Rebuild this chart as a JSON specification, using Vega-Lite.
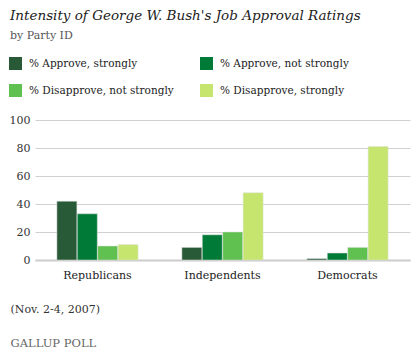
{
  "$schema": "https://vega.github.io/schema/vega-lite/v6.json",
  "autosize": {"type": "none"},
  "width": 375,
  "height": 140,
  "padding": {"left": 35, "top": 120, "right": 10, "bottom": 93},
  "background": "#ffffff",
  "title": {
    "text": "Intensity of George W. Bush's Job Approval Ratings",
    "subtitle": "by Party ID",
    "anchor": "start",
    "frame": "group",
    "dx": -25,
    "offset": 16,
    "font": "DejaVu Serif",
    "fontSize": 13.5,
    "fontStyle": "italic",
    "fontWeight": "normal",
    "color": "#222222",
    "subtitleFont": "DejaVu Serif",
    "subtitleFontSize": 11,
    "subtitleColor": "#555555",
    "subtitlePadding": 8
  },
  "data": {
    "values": [
      {"party": "Republicans", "series": "% Approve, strongly", "value": 42},
      {"party": "Republicans", "series": "% Approve, not strongly", "value": 33},
      {"party": "Republicans", "series": "% Disapprove, not strongly", "value": 10},
      {"party": "Republicans", "series": "% Disapprove, strongly", "value": 11},
      {"party": "Independents", "series": "% Approve, strongly", "value": 9},
      {"party": "Independents", "series": "% Approve, not strongly", "value": 18},
      {"party": "Independents", "series": "% Disapprove, not strongly", "value": 20},
      {"party": "Independents", "series": "% Disapprove, strongly", "value": 48},
      {"party": "Democrats", "series": "% Approve, strongly", "value": 1},
      {"party": "Democrats", "series": "% Approve, not strongly", "value": 5},
      {"party": "Democrats", "series": "% Disapprove, not strongly", "value": 9},
      {"party": "Democrats", "series": "% Disapprove, strongly", "value": 81}
    ]
  },
  "mark": {"type": "bar", "stroke": "#e0e0e0", "strokeWidth": 0.5},
  "encoding": {
    "x": {
      "field": "party",
      "type": "nominal",
      "sort": ["Republicans", "Independents", "Democrats"],
      "scale": {"paddingInner": 0.35, "paddingOuter": 0.175},
      "axis": {
        "title": "(Nov. 2-4, 2007)",
        "titleAnchor": "start",
        "titleAlign": "left",
        "titleX": -25,
        "titleY": 52,
        "titleBaseline": "alphabetic",
        "titleFont": "DejaVu Serif",
        "titleFontSize": 11,
        "titleFontWeight": "normal",
        "titleColor": "#333333",
        "labelAngle": 0,
        "labelFont": "DejaVu Serif",
        "labelFontSize": 11,
        "labelColor": "#222222",
        "labelPadding": 9,
        "ticks": false,
        "domainColor": "#cccccc",
        "domainWidth": 2
      }
    },
    "xOffset": {
      "field": "series",
      "type": "nominal",
      "sort": ["% Approve, strongly", "% Approve, not strongly", "% Disapprove, not strongly", "% Disapprove, strongly"],
      "scale": {"paddingInner": 0.02}
    },
    "y": {
      "field": "value",
      "type": "quantitative",
      "scale": {"domain": [0, 100]},
      "axis": {
        "values": [0, 20, 40, 60, 80, 100],
        "title": "GALLUP POLL",
        "titleAngle": 0,
        "titleAnchor": "start",
        "titleAlign": "left",
        "titleX": -25,
        "titleY": 226,
        "titleBaseline": "alphabetic",
        "titleFont": "DejaVu Serif",
        "titleFontSize": 11.5,
        "titleFontWeight": "normal",
        "titleColor": "#666666",
        "labelFont": "DejaVu Serif",
        "labelFontSize": 11,
        "labelColor": "#333333",
        "labelPadding": 5,
        "ticks": false,
        "domain": false,
        "gridColor": "#d0d0d0",
        "gridWidth": 1
      }
    },
    "color": {
      "field": "series",
      "type": "nominal",
      "sort": ["% Approve, strongly", "% Approve, not strongly", "% Disapprove, not strongly", "% Disapprove, strongly"],
      "scale": {
        "domain": ["% Approve, strongly", "% Approve, not strongly", "% Disapprove, not strongly", "% Disapprove, strongly"],
        "range": ["#285a38", "#007a37", "#60c050", "#c6e56f"]
      },
      "legend": {
        "title": null,
        "orient": "none",
        "legendX": -26,
        "legendY": -63,
        "direction": "horizontal",
        "columns": 2,
        "columnPadding": 26,
        "rowPadding": 14,
        "symbolType": "square",
        "symbolSize": 169,
        "symbolStrokeWidth": 0,
        "labelFont": "DejaVu Serif",
        "labelFontSize": 10.5,
        "labelColor": "#222222",
        "labelOffset": 7,
        "labelLimit": 300
      }
    }
  },
  "config": {"view": {"stroke": null}}
}
